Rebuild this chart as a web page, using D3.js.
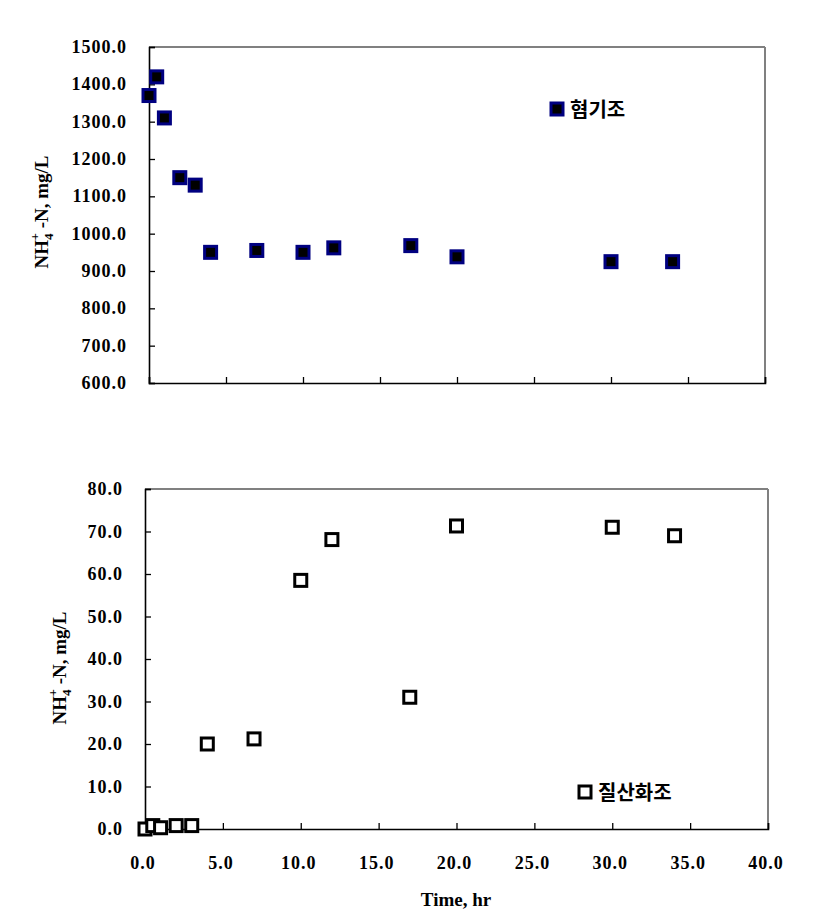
<!DOCTYPE html>
<html><head><meta charset="utf-8">
<script src="https://cdn.jsdelivr.net/npm/d3@7"></script>
<style>body{margin:0;background:#fff}</style>
</head><body>
<svg id="c" width="828" height="923"></svg>
<script>
// data
const anaerobicTime = [0, 0.5, 1, 2, 3, 4, 7, 10, 12, 17, 20, 30, 34];
const anaerobicNH4 = [1370, 1420, 1310, 1150, 1130, 950, 955, 950, 962, 968, 938, 925, 925];
const nitrifTime = [0, 0.5, 1, 2, 3, 4, 7, 10, 12, 17, 20, 30, 34];
const nitrifNH4 = [0, 0.8, 0.3, 0.8, 0.8, 20, 21.2, 58.5, 68.1, 31, 71.3, 71, 69];
const topYTicks = [600, 700, 800, 900, 1000, 1100, 1200, 1300, 1400, 1500];
const botYTicks = [0, 10, 20, 30, 40, 50, 60, 70, 80];
const xTicks = [0, 5, 10, 15, 20, 25, 30, 35, 40];
const legendTop = "혐기조";
const legendBottom = "질산화조";
const xTitle = "Time, hr";

const svg = d3.select("#c");
const serif = "'Liberation Serif','Times New Roman',serif";
const kfont = "'Noto Sans CJK KR','Noto Sans CJK SC',sans-serif";

function panel(cfg) {
  const x = d3.scaleLinear().domain([0, 40]).range([cfg.left, cfg.right]);
  const y = d3.scaleLinear().domain(cfg.ydom).range([cfg.bottom, cfg.top]);
  const g = svg.append("g");
  g.append("line").attr("x1", cfg.left).attr("x2", cfg.right).attr("y1", cfg.top).attr("y2", cfg.top)
    .attr("stroke", "#808080").attr("stroke-width", 2);
  g.append("line").attr("x1", cfg.right).attr("x2", cfg.right).attr("y1", cfg.top).attr("y2", cfg.bottom)
    .attr("stroke", "#808080").attr("stroke-width", 2);
  const ya = g.append("g").attr("transform", `translate(${cfg.left},0)`)
    .call(d3.axisRight(y).tickValues(cfg.yticks).tickSize(6).tickFormat(""));
  ya.select(".domain").attr("stroke", "#000").attr("stroke-width", 1.6);
  ya.selectAll(".tick line").attr("stroke", "#000").attr("stroke-width", 1.3);
  g.selectAll(".ylab").data(cfg.yticks).join("text")
    .attr("x", cfg.left - 22).attr("y", d => y(d) + 6)
    .attr("text-anchor", "end").attr("font-family", serif).attr("font-weight", "bold")
    .attr("letter-spacing", 1).attr("font-size", 18).text(d => d.toFixed(1));
  const xa = g.append("g").attr("transform", `translate(0,${cfg.bottom})`)
    .call(d3.axisTop(x).tickValues(xTicks).tickSize(6).tickFormat(""));
  xa.select(".domain").attr("stroke", "#000").attr("stroke-width", 1.6);
  xa.selectAll(".tick line").attr("stroke", "#000").attr("stroke-width", 1.3);
  if (cfg.xlabels) {
    g.selectAll(".xlab").data(xTicks).join("text")
      .attr("x", d => x(d) - 2).attr("y", cfg.bottom + 40)
      .attr("text-anchor", "middle").attr("font-family", serif).attr("font-weight", "bold")
      .attr("letter-spacing", 1).attr("font-size", 18).text(d => d.toFixed(1));
  }
  const t = g.append("text").attr("transform", `translate(${cfg.ytx},${cfg.yty}) rotate(-90)`)
    .attr("text-anchor", "middle").attr("font-family", serif).attr("font-weight", "bold").attr("font-size", 19);
  t.append("tspan").text("NH");
  t.append("tspan").attr("font-size", 13).attr("dy", 5).text("4");
  t.append("tspan").attr("font-size", 13).attr("dy", -14).attr("dx", -7).text("+");
  t.append("tspan").attr("dy", 9).text(" -N, mg/L");
  const s = 12;
  g.selectAll(".pt").data(cfg.xs.map((d, i) => [d, cfg.ys[i]])).join("rect")
    .attr("x", d => x(d[0]) - s / 2).attr("y", d => y(d[1]) - s / 2)
    .attr("width", s).attr("height", s)
    .attr("fill", cfg.fill).attr("stroke", cfg.stroke).attr("stroke-width", 3);
  g.append("rect").attr("x", cfg.lx - s / 2).attr("y", cfg.ly - s / 2).attr("width", s).attr("height", s)
    .attr("fill", cfg.fill).attr("stroke", cfg.stroke).attr("stroke-width", 3);
  g.append("text").attr("x", cfg.lx + 13).attr("y", cfg.ly + 8)
    .attr("font-family", kfont).attr("font-weight", "bold").attr("font-size", 20).text(cfg.legend);
  return x;
}

panel({left: 149, right: 765, top: 47, bottom: 383, ydom: [600, 1500], yticks: topYTicks,
  xs: anaerobicTime, ys: anaerobicNH4, fill: "#000", stroke: "#000080",
  lx: 557, ly: 109, legend: legendTop, xlabels: false, ytx: 48, yty: 212});
panel({left: 145, right: 768, top: 489, bottom: 829, ydom: [0, 80], yticks: botYTicks,
  xs: nitrifTime, ys: nitrifNH4, fill: "#fff", stroke: "#000",
  lx: 585, ly: 792, legend: legendBottom, xlabels: true, ytx: 66, yty: 668});

svg.append("text").attr("x", 456).attr("y", 906).attr("text-anchor", "middle")
  .attr("font-family", serif).attr("font-weight", "bold").attr("font-size", 19).text(xTitle);
</script>
</body></html>
